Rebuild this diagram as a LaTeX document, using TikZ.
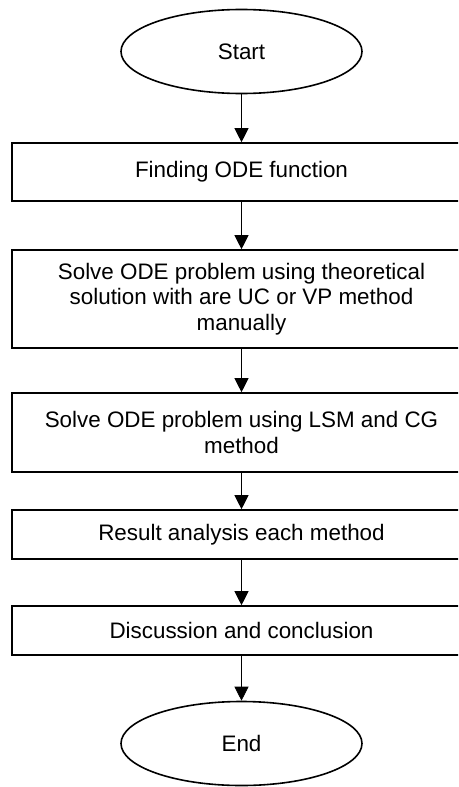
\documentclass[tikz,border=0pt]{standalone}
\usepackage{fontspec}
\setmainfont{Liberation Sans}
\usepackage{tikz}
\usetikzlibrary{positioning}
\usetikzlibrary{shapes.geometric}
\usetikzlibrary{arrows.meta}

\begin{document}
\begin{tikzpicture}[
    x=1pt, y=-1pt,
    font=\fontsize{22.4}{25.7}\selectfont,
    terminal/.style={ellipse, draw, line width=1.6pt, minimum width=241pt, minimum height=84pt, inner sep=0pt},
    stepbox/.style={rectangle, draw, line width=1.6pt, minimum width=459pt, inner sep=0pt, align=center},
    arrow/.style={-{Triangle[length=14pt,width=14pt]}, line width=0.8pt}
]
    \path[use as bounding box, clip] (0,0) rectangle (458,787);

    % Start and end
    \node[terminal] (start) at (241.5,51.5) {Start};
    \node[terminal] (end) at (241.5,743.5) {End};

    % Steps
    \node[stepbox, minimum height=58pt] (find) at (241.5,172) {Finding ODE function};
    \node[stepbox, minimum height=98pt] (theory) at (241.5,299) {Solve ODE problem using theoretical\\solution with are UC or VP method\\manually};
    \node[stepbox, minimum height=79pt] (lsm) at (241.5,432.5) {Solve ODE problem using LSM and CG\\method};
    \node[stepbox, minimum height=49pt] (result) at (241.5,534.5) {Result analysis each method};
    \node[stepbox, minimum height=49pt] (disc) at (241.5,630.5) {Discussion and conclusion};

    % Connections
    \draw[arrow] (start) -- (find);
    \draw[arrow] (find) -- (theory);
    \draw[arrow] (theory) -- (lsm);
    \draw[arrow] (lsm) -- (result);
    \draw[arrow] (result) -- (disc);
    \draw[arrow] (disc) -- (end);
\end{tikzpicture}
\end{document}
